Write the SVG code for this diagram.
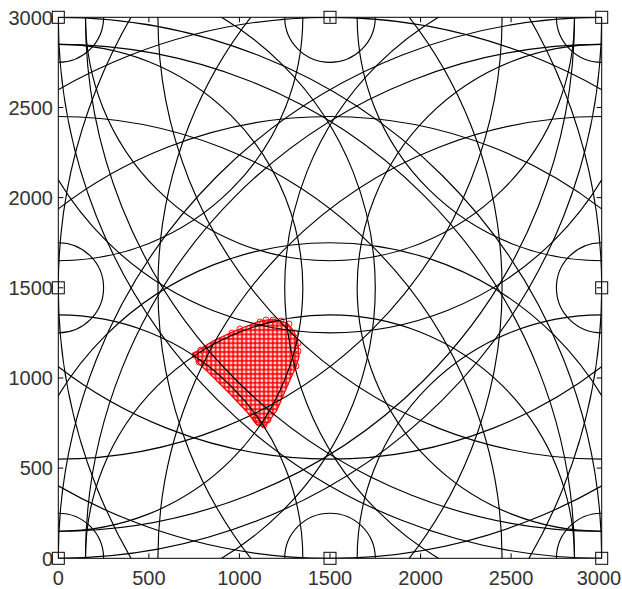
<svg xmlns="http://www.w3.org/2000/svg" xmlns:xlink="http://www.w3.org/1999/xlink" width="622" height="589" viewBox="0 0 622 589">
<style>
.ring{fill:none;stroke:#000;stroke-width:1.15;vector-effect:non-scaling-stroke}
.lbl{font-family:"Liberation Sans",Arial,sans-serif;font-size:20px;fill:#333}
.tick{stroke:#000;stroke-width:1}
.anc{fill:none;stroke:#000;stroke-width:1}
.dot{fill:none;stroke:#f00;stroke-width:0.9}
</style>
<defs>
<clipPath id="axclip"><rect x="0" y="0" width="3000" height="3000"/></clipPath>
<g id="ringsC">
<circle class="ring" r="250"/><circle class="ring" r="1350"/><circle class="ring" r="2450"/><circle class="ring" r="2850"/><circle class="ring" r="3000"/>
</g>
<g id="ringsM">
<circle class="ring" r="250"/><circle class="ring" r="1350"/><circle class="ring" r="1750"/><circle class="ring" r="2450"/><circle class="ring" r="3000"/>
</g>
<pattern id="dots" patternUnits="userSpaceOnUse" x="0" y="0" width="4.4" height="4.4">
<circle class="dot" cx="2.2" cy="2.2" r="2.9"/><circle class="dot" cx="6.6" cy="2.2" r="2.9"/><circle class="dot" cx="-2.2" cy="2.2" r="2.9"/><circle class="dot" cx="2.2" cy="6.6" r="2.9"/><circle class="dot" cx="2.2" cy="-2.2" r="2.9"/><circle class="dot" cx="6.6" cy="6.6" r="2.9"/><circle class="dot" cx="-2.2" cy="-2.2" r="2.9"/><circle class="dot" cx="6.6" cy="-2.2" r="2.9"/><circle class="dot" cx="-2.2" cy="6.6" r="2.9"/>
</pattern>
</defs>
<rect width="622" height="589" fill="#fff"/>
<g id="estimate">
<path d="M193,354 L200,349 L213,341 L230,333 L247,326 L260,321 L273,319 L287,323 L294,331 L298,343 L299,357 L296,367 L290,380 L283,396 L277,410 L270,420 L264,427 L256,424 L247,412 L230,394 L217,381 L207,371 L197,362 Z" fill="url(#dots)" stroke="#f00" stroke-width="1.2"/>
<g class="dot">
<circle cx="195" cy="355" r="3"/><circle cx="201" cy="350" r="3"/><circle cx="199" cy="362" r="3"/><circle cx="232" cy="333" r="3"/><circle cx="240" cy="329" r="3"/><circle cx="260" cy="322" r="3"/><circle cx="266" cy="320" r="3"/><circle cx="273" cy="320" r="3"/><circle cx="281" cy="321" r="3"/><circle cx="289" cy="324" r="3"/><circle cx="295" cy="333" r="3"/><circle cx="298" cy="343" r="3"/><circle cx="298" cy="351" r="3"/><circle cx="296" cy="366" r="3"/><circle cx="264" cy="425" r="3"/><circle cx="259" cy="423" r="3"/><circle cx="268" cy="420" r="3"/><circle cx="256" cy="418" r="3"/>
</g>
</g>
<g id="connectors" transform="translate(58.3,558.3) scale(0.18113,-0.18033)">
<g clip-path="url(#axclip)">
<use xlink:href="#ringsC" x="0" y="0"/>
<use xlink:href="#ringsM" x="1500" y="0"/>
<use xlink:href="#ringsC" x="3000" y="0"/>
<use xlink:href="#ringsM" x="0" y="1500"/>
<use xlink:href="#ringsM" x="3000" y="1500"/>
<use xlink:href="#ringsC" x="0" y="3000"/>
<use xlink:href="#ringsM" x="1500" y="3000"/>
<use xlink:href="#ringsC" x="3000" y="3000"/>
</g>
</g>
<g id="axes">
<rect x="58.3" y="17.3" width="543.4" height="541" fill="none" stroke="#000" stroke-width="1"/>
<path class="tick" d="M148.9,558.3v-5M239.4,558.3v-5M330,558.3v-5M420.6,558.3v-5M511.1,558.3v-5M148.9,17.3v5M239.4,17.3v5M330,17.3v5M420.6,17.3v5M511.1,17.3v5M58.3,468.1h5M58.3,378h5M58.3,287.8h5M58.3,197.6h5M58.3,107.5h5M601.7,468.1h-5M601.7,378h-5M601.7,287.8h-5M601.7,197.6h-5M601.7,107.5h-5"/>
<g class="lbl" text-anchor="middle">
<text x="58.3" y="585">0</text><text x="148.9" y="585">500</text><text x="239.4" y="585">1000</text><text x="330" y="585">1500</text><text x="420.6" y="585">2000</text><text x="511.1" y="585">2500</text><text x="599" y="585">3000</text>
</g>
<g class="lbl" text-anchor="end">
<text x="53" y="565.5">0</text><text x="53" y="475.3">500</text><text x="53" y="385.2">1000</text><text x="53" y="295">1500</text><text x="53" y="204.8">2000</text><text x="53" y="114.7">2500</text><text x="53" y="24.5">3000</text>
</g>
</g>
<g id="anchors">
<g id="a1"><rect class="anc" x="52.3" y="552.3" width="12" height="12"/></g>
<g id="a2"><rect class="anc" x="324" y="552.3" width="12" height="12"/></g>
<g id="a3"><rect class="anc" x="595.7" y="552.3" width="12" height="12"/></g>
<g id="a4"><rect class="anc" x="52.3" y="281.8" width="12" height="12"/></g>
<g id="a5"><rect class="anc" x="595.7" y="281.8" width="12" height="12"/></g>
<g id="a6"><rect class="anc" x="52.3" y="11.3" width="12" height="12"/></g>
<g id="a7"><rect class="anc" x="324" y="11.3" width="12" height="12"/></g>
<g id="a8"><rect class="anc" x="595.7" y="11.3" width="12" height="12"/></g>
</g>
</svg>
